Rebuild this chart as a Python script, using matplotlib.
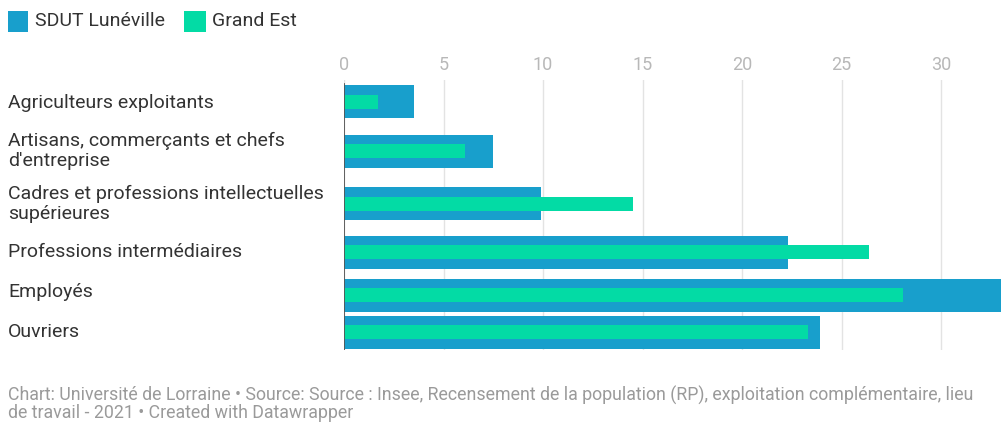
import numpy as np
import matplotlib
matplotlib.use("Agg")
import matplotlib.pyplot as plt
from matplotlib.patches import Rectangle

plt.rcParams['font.family'] = ['Roboto', 'DejaVu Sans']

categories = ["Agriculteurs exploitants",
              "Artisans, commerçants et chefs\nd'entreprise",
              "Cadres et professions intellectuelles\nsupérieures",
              "Professions intermédiaires",
              "Employés",
              "Ouvriers"]
sdut = [3.5, 7.5, 9.9, 22.3, 34.5, 23.9]
grand_est = [1.7, 6.1, 14.5, 26.4, 28.1, 23.3]
ticks = [0, 5, 10, 15, 20, 25, 30]

blue = "#189fcc"
green = "#03dba5"

W, H = 1001, 423
fig = plt.figure(figsize=(W / 100, H / 100), dpi=100)

# row centres (pixels from top), taller rows for two-line labels
row_centres = [102, 151, 204, 252, 295, 332]
y_top, y_bot = 80, 350
ax = fig.add_axes([344 / W, 1 - y_bot / H, (W - 344) / W, (y_bot - y_top) / H])
ax.set_xlim(0, (W - 344) / 19.9)
ax.set_ylim(y_bot, y_top)

ax.barh(row_centres, sdut, height=33, color=blue, zorder=2)
ax.barh(row_centres, grand_est, height=14, color=green, zorder=3)

for t in ticks:
    ax.axvline(t, color="#e3e3e3", lw=1, zorder=1)
ax.axvline(0, ymin=0, ymax=(y_bot - 84) / (y_bot - y_top), color="#555555", lw=1.3, zorder=4)

for s in ax.spines.values():
    s.set_visible(False)
ax.set_yticks([])
ax.set_xticks(ticks)
ax.xaxis.tick_top()
ax.tick_params(axis='x', length=0, pad=4, labelsize=13, labelcolor="#b8b8b8")

label_y = [103, 151, 204, 252, 292, 332]
for lab, yc in zip(categories, label_y):
    fig.text(8 / W, 1 - yc / H, lab, ha='left', va='center', fontsize=14,
             color="#333333", linespacing=1.2)

# legend
fig.patches.append(Rectangle((8 / W, 1 - 32 / H), 20 / W, 21 / H, transform=fig.transFigure,
                             facecolor=blue, edgecolor="none"))
fig.text(35 / W, 1 - 21 / H, "SDUT Lunéville", fontsize=14, color="#333333", va='center')
fig.patches.append(Rectangle((184 / W, 1 - 32 / H), 22 / W, 21 / H, transform=fig.transFigure,
                             facecolor=green, edgecolor="none"))
fig.text(212 / W, 1 - 21 / H, "Grand Est", fontsize=14, color="#333333", va='center')

fig.text(8 / W, 1 - 404 / H,
         "Chart: Université de Lorraine • Source: Source : Insee, Recensement de la population (RP), exploitation complémentaire, lieu\nde travail - 2021 • Created with Datawrapper",
         fontsize=12.8, color="#9a9a9a", va='center', linespacing=0.98)

fig.savefig("out.png", dpi=100)
